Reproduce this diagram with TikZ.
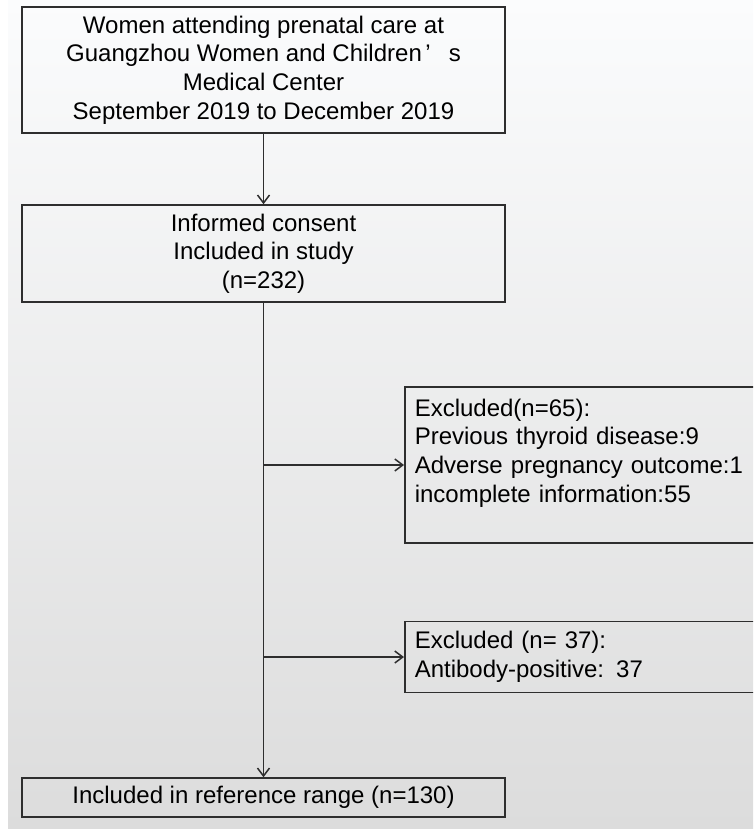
\documentclass[tikz,border=0pt]{standalone}
\usepackage{fontspec}
\setmainfont{Liberation Sans}
\usetikzlibrary{arrows.meta}
\definecolor{linegray}{HTML}{2E2E2E}
\definecolor{bgtop}{HTML}{FBFCFD}
\definecolor{bgbottom}{HTML}{DCDCDC}
\begin{document}
\begin{tikzpicture}[x=1pt, y=-1pt]
\tikzset{ >={Straight Barb[length=8pt, width=12pt]},
  flow/.style={draw=linegray, line width=1.5pt},
  stage/.style={draw=linegray, line width=1.5pt, minimum width=483pt, align=center, inner sep=0pt, font=\fontsize{24}{28.7}\selectfont},
  excl/.style={draw=linegray, line width=1.5pt, anchor=west, align=left, text width=400pt, inner sep=10pt, font=\fontsize{24}{28.7}\selectfont},
}

\useasboundingbox (0,0) rectangle (753,829);
\clip (0,0) rectangle (753,829);
\shade [top color=bgtop, bottom color=bgbottom] (8,0) rectangle (753,829);

\node [stage, minimum height=126pt] (start) at (263.5,70) {Women attending prenatal care at\\Guangzhou Women and Children\hspace{0.15em}’\hspace{0.75em}s\\Medical Center\\September 2019 to December 2019};
\node [stage, minimum height=97pt] (consent) at (263.5,253.5) {Informed consent\\Included in study\\(n=232)};
\node [excl, minimum height=156pt] (excl1) at (404,465) {Excluded(n=65):\\Previous thyroid disease:9\\Adverse pregnancy outcome:1\\incomplete information:55\\~};
\node [excl, minimum height=68pt] (excl2) at (404,657) {Excluded (n= 37):\\Antibody-positive: 37};
\node [stage, minimum height=39pt] (final) at (263.5,797.5) {Included in reference range (n=130)};

\draw [flow, ->] (start) -- (consent);
\draw [flow, ->] (consent) -- (final);
\draw [flow, ->] (consent.south |- excl1.west) -- (excl1.west);
\draw [flow, ->] (consent.south |- excl2.west) -- (excl2.west);

\end{tikzpicture}
\end{document}
